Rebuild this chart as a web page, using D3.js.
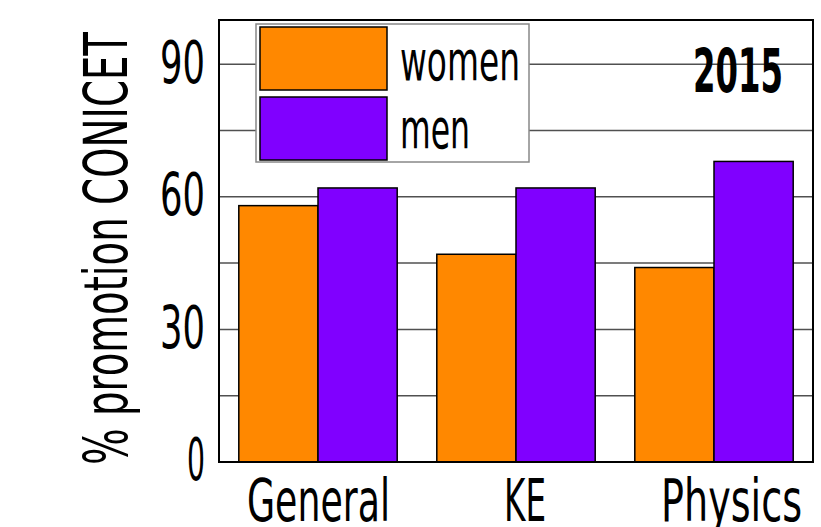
<!DOCTYPE html>
<html>
<head>
<meta charset="utf-8">
<script src="https://cdn.jsdelivr.net/npm/d3@7"></script>
<style>
  body { margin: 0; background: #fff; }
  text { font-family: "DejaVu Sans", sans-serif; fill: #000; }
</style>
</head>
<body>
<div id="chart"></div>
<script>
// data
var categories = ["General", "KE", "Physics"];
var series = ["women", "men"];
var women = [58, 47, 44];
var men = [62, 62, 68];
var yTicks = [0, 30, 60, 90];
var gridTicks = [15, 30, 45, 60, 75, 90];
var yearLabel = "2015";
var yLabel = "% promotion CONICET";

var colors = { women: "#ff8800", men: "#8000ff" };

// squeezed widths to mimic the narrow font
var tickWidth = { "0": 18, "30": 45, "60": 45, "90": 45 };
var catWidth = { "General": 143, "KE": 42, "Physics": 141 };
var legWidth = { "women": 120, "men": 70 };

var margin = { top: 20, right: 8, bottom: 65, left: 219 };
var width = 821 - margin.left - margin.right;
var height = 527 - margin.top - margin.bottom;

var svg = d3.select("#chart").append("svg")
    .attr("width", 821)
    .attr("height", 527)
    .append("g").attr("transform", `translate(${margin.left},${margin.top})`);

var x0 = d3.scaleBand().domain(categories).range([0, width]).paddingInner(0.2).paddingOuter(0.1);
var x1 = d3.scaleBand().domain(series).range([0, x0.bandwidth()]);
// the category names sit a bit right of the bar groups in the original
var xLab = d3.scalePoint().domain(categories).range([99, 512]);
var y = d3.scaleLinear().domain([0, 100]).range([height, 0]);

// grid
svg.append("g")
    .selectAll("line")
    .data(gridTicks)
    .enter()
    .append("line")
    .attr("x1", 0)
    .attr("x2", width)
    .attr("y1", d => y(d))
    .attr("y2", d => y(d))
    .attr("stroke", "#505050")
    .attr("stroke-width", 1.5);

// bars
var rows = categories.map((c, i) => ({ cat: c, women: women[i], men: men[i] }));
var groups = svg.append("g").selectAll("g")
    .data(rows)
    .enter()
    .append("g")
    .attr("transform", d => `translate(${x0(d.cat)},0)`);

groups.selectAll("rect")
    .data(d => series.map(s => ({ key: s, value: d[s] })))
    .enter()
    .append("rect")
    .attr("x", d => x1(d.key))
    .attr("y", d => y(d.value))
    .attr("width", x1.bandwidth())
    .attr("height", d => height - y(d.value))
    .attr("fill", d => colors[d.key])
    .attr("stroke", "#000")
    .attr("stroke-width", 1.5);

// frame
svg.append("rect")
    .attr("x", 0).attr("y", 0)
    .attr("width", width).attr("height", height)
    .attr("fill", "none")
    .attr("stroke", "#000")
    .attr("stroke-width", 2);

// y axis
var yAxis = svg.append("g")
    .call(d3.axisLeft(y).tickValues(yTicks).tickSize(0).tickPadding(14));
yAxis.select(".domain").remove();
yAxis.selectAll("text")
    .style("font-family", "DejaVu Sans")
    .attr("font-size", 58)
    .attr("dy", "0.31em")
    .attr("textLength", d => tickWidth[d])
    .attr("lengthAdjust", "spacingAndGlyphs");

// x axis
var xAxis = svg.append("g")
    .attr("transform", `translate(0,${height})`)
    .call(d3.axisBottom(xLab).tickSize(0).tickPadding(0));
xAxis.select(".domain").remove();
xAxis.selectAll("text")
    .style("font-family", "DejaVu Sans")
    .attr("font-size", 58)
    .attr("y", 59)
    .attr("dy", 0)
    .attr("textLength", d => catWidth[d])
    .attr("lengthAdjust", "spacingAndGlyphs");

// y label
svg.append("text")
    .attr("transform", `translate(${127 - margin.left},${465 - margin.top}) rotate(-90)`)
    .attr("font-size", 60)
    .attr("textLength", 433)
    .attr("lengthAdjust", "spacingAndGlyphs")
    .text(yLabel);

// year
svg.append("text")
    .attr("x", 783 - margin.left)
    .attr("y", 92 - margin.top)
    .attr("text-anchor", "end")
    .attr("font-size", 60)
    .attr("font-weight", "bold")
    .attr("textLength", 90)
    .attr("lengthAdjust", "spacingAndGlyphs")
    .text(yearLabel);

// legend
var legend = svg.append("g").attr("transform", `translate(${256 - margin.left},${24 - margin.top})`);
legend.append("rect")
    .attr("width", 273)
    .attr("height", 138)
    .attr("fill", "#fff")
    .attr("stroke", "#888")
    .attr("stroke-width", 1.5);

legend.selectAll(".sw")
    .data(series)
    .enter()
    .append("rect")
    .attr("class", "sw")
    .attr("x", 4)
    .attr("y", (d, i) => 3 + 70 * i)
    .attr("width", 127)
    .attr("height", 63)
    .attr("fill", d => colors[d])
    .attr("stroke", "#000")
    .attr("stroke-width", 1.5);

legend.selectAll(".lt")
    .data(series)
    .enter()
    .append("text")
    .attr("class", "lt")
    .attr("x", 144)
    .attr("y", (d, i) => 56 + 68 * i)
    .attr("font-size", 56)
    .attr("textLength", d => legWidth[d])
    .attr("lengthAdjust", "spacingAndGlyphs")
    .text(d => d);
</script>
</body>
</html>
